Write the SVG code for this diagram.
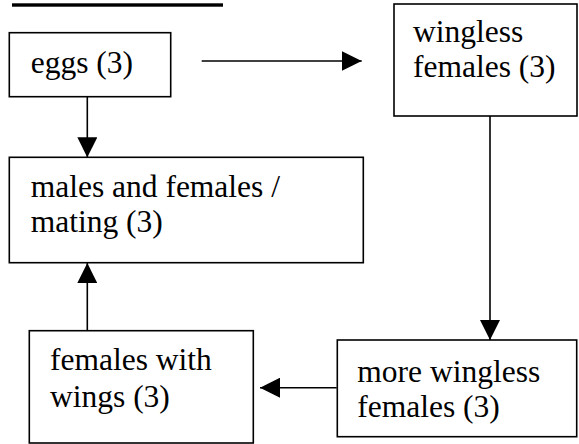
<svg xmlns="http://www.w3.org/2000/svg" width="579" height="444" viewBox="0 0 579 444">
<style>
.box{fill:#fff;stroke:#000;stroke-width:1.6}
text{font-family:'Liberation Serif','Times New Roman','DejaVu Serif','Noto Serif',Times,serif;font-size:31.5px;fill:#000}
.conn{stroke:#000;stroke-width:1.6;fill:none;marker-end:url(#ah)}
</style>
<defs>
<marker id="ah" markerUnits="userSpaceOnUse" markerWidth="20" markerHeight="20" refX="20" refY="10" orient="auto">
<path d="M0,0 L20,10 L0,20 Z" fill="#000"/>
</marker>
</defs>
<rect x="12" y="3.3" width="211" height="3.4" fill="#000"/>
<g id="connectors">
<line class="conn" x1="201.7" y1="61" x2="361.7" y2="61"/>
<line class="conn" x1="87.3" y1="97" x2="87.3" y2="157.3"/>
<line class="conn" x1="490" y1="116" x2="490" y2="340"/>
<line class="conn" x1="336.7" y1="387.7" x2="260" y2="387.7"/>
<line class="conn" x1="87.3" y1="330.7" x2="87.3" y2="263"/>
</g>
<g id="eggs">
<rect class="box" x="9.3" y="32.7" width="161.4" height="64"/>
<text x="30.7" y="73">eggs (3)</text>
</g>
<g id="wingless">
<rect class="box" x="394" y="4" width="183" height="112"/>
<text x="413" y="41.7">wingless</text>
<text x="413" y="77">females (3)</text>
</g>
<g id="males">
<rect class="box" x="9.3" y="157.3" width="354" height="105.4"/>
<text x="30.7" y="196.7">males and females /</text>
<text x="30.7" y="231.7">mating (3)</text>
</g>
<g id="femaleswings">
<rect class="box" x="29.3" y="330.7" width="224" height="112.3"/>
<text x="50" y="370">females with</text>
<text x="50" y="407.3">wings (3)</text>
</g>
<g id="morewingless">
<rect class="box" x="337.3" y="340" width="239.4" height="96.7"/>
<text x="357.3" y="381.7">more wingless</text>
<text x="357.3" y="416.7">females (3)</text>
</g>
</svg>
